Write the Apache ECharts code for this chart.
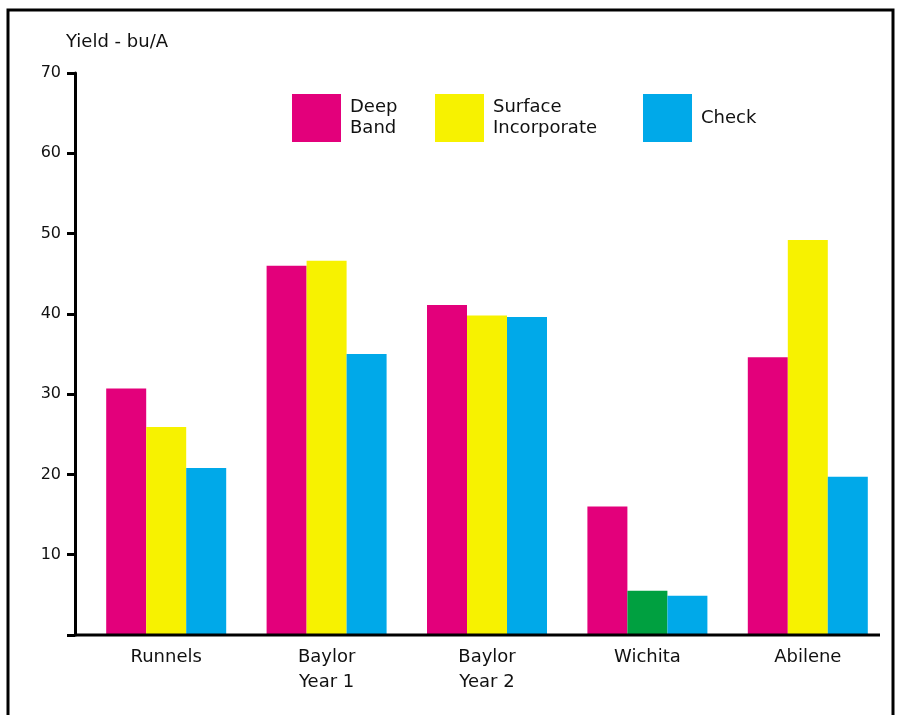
<!DOCTYPE html>
<html>
<head>
<meta charset="utf-8">
<script src="https://cdn.jsdelivr.net/npm/echarts@6/dist/echarts.min.js"></script>
<style>
  html, body { margin: 0; padding: 0; background: #fff; }
  #chart { width: 906px; height: 715px; }
</style>
</head>
<body>
<div id="chart"></div>
<script>
// Wheat yield by site and fertilizer placement (bu/A)
const categories = ['Runnels', 'Baylor\nYear 1', 'Baylor\nYear 2', 'Wichita', 'Abilene'];
const seriesNames = ['Deep Band', 'Surface Incorporate', 'Check'];
const deepBand = [30.7, 46.0, 41.1, 16.0, 34.6];
const surfaceIncorporate = [25.9, 46.6, 39.8, 5.5, 49.2];
const check = [20.8, 35.0, 39.6, 4.9, 19.7];
const yTicks = [0, 10, 20, 30, 40, 50, 60, 70];

const FONT = 'DejaVu Sans';
const PINK = '#E3007B';
const YELLOW = '#F7F200';
const BLUE = '#00A9E9';
const GREEN = '#00A040';

const chart = echarts.init(document.getElementById('chart'), null, { renderer: 'canvas' });

// Wichita's surface-incorporate bar is drawn in green
const surfaceData = surfaceIncorporate.map((v, i) =>
  categories[i] === 'Wichita' ? { value: v, itemStyle: { color: GREEN } } : v);

function legendFor(name, left) {
  return {
    data: [name],
    left: left,
    top: 94,
    padding: 0,
    icon: 'rect',
    itemWidth: 49,
    itemHeight: 48,
    selectedMode: false,
    formatter: n => n.replace(' ', '\n'),
    textStyle: { fontFamily: FONT, fontSize: 18, color: '#111', lineHeight: 21, padding: [0, 0, 0, 4] }
  };
}

chart.setOption({
  animation: false,
  backgroundColor: '#fff',
  title: {
    text: 'Yield - bu/A',
    left: 66,
    top: 33,
    padding: 0,
    textStyle: { fontFamily: FONT, fontSize: 18, fontWeight: 'normal', color: '#111' }
  },
  legend: [
    legendFor(seriesNames[0], 292),
    legendFor(seriesNames[1], 435),
    legendFor(seriesNames[2], 643)
  ],
  grid: { left: 86, right: 18, top: 73, bottom: 80, containLabel: false },
  xAxis: {
    type: 'category',
    data: categories,
    axisLine: { show: false },
    axisTick: { show: false },
    axisLabel: {
      fontFamily: FONT, fontSize: 18, color: '#111', lineHeight: 25, margin: 10,
      interval: 0, align: 'center'
    }
  },
  yAxis: {
    type: 'value',
    min: yTicks[0],
    max: yTicks[yTicks.length - 1],
    interval: 10,
    offset: 11,
    splitLine: { show: false },
    axisLine: { show: true, lineStyle: { color: '#000', width: 3 } },
    axisTick: { show: true, length: 8, lineStyle: { color: '#000', width: 3 } },
    axisLabel: {
      fontFamily: FONT, fontSize: 16, color: '#111', margin: 14,
      formatter: v => (v === 0 ? '' : String(v))
    }
  },
  series: [
    { name: seriesNames[0], type: 'bar', data: deepBand, itemStyle: { color: PINK },
      barWidth: 40, barGap: '0%' },
    { name: seriesNames[1], type: 'bar', data: surfaceData, itemStyle: { color: YELLOW },
      barWidth: 40, barGap: '0%' },
    { name: seriesNames[2], type: 'bar', data: check, itemStyle: { color: BLUE },
      barWidth: 40, barGap: '0%' }
  ],
  graphic: [
    // outer frame
    { type: 'rect', silent: true, z: 100,
      shape: { x: 8, y: 10, width: 885, height: 800 },
      style: { fill: 'none', stroke: '#000', lineWidth: 3 } },
    // baseline along the category axis
    { type: 'line', silent: true, z: 100,
      shape: { x1: 74, y1: 635, x2: 880, y2: 635 },
      style: { stroke: '#000', lineWidth: 3 } }
  ]
});
</script>
</body>
</html>
